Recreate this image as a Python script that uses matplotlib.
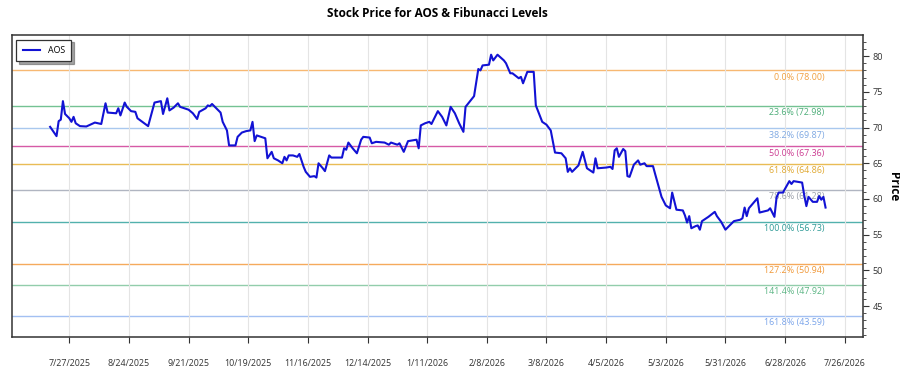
import pandas as pd
import matplotlib
matplotlib.use("Agg")
import matplotlib.pyplot as plt
from matplotlib.ticker import MultipleLocator, FixedLocator, FuncFormatter
import matplotlib.dates as mdates

plt.rcParams["font.family"] = ["Open Sans", "DejaVu Sans"]

ticker_name = "AOS"

# closing prices
dates = [
    "2025-07-18", "2025-07-21", "2025-07-22", "2025-07-23", "2025-07-24", "2025-07-25",
    "2025-07-27", "2025-07-28", "2025-07-29", "2025-07-30", "2025-08-01", "2025-08-04",
    "2025-08-08", "2025-08-11", "2025-08-13", "2025-08-14", "2025-08-18", "2025-08-19",
    "2025-08-20", "2025-08-22", "2025-08-23", "2025-08-25", "2025-08-27", "2025-08-28",
    "2025-09-02", "2025-09-03", "2025-09-05", "2025-09-08", "2025-09-09", "2025-09-11",
    "2025-09-12", "2025-09-14", "2025-09-16", "2025-09-17", "2025-09-21", "2025-09-23",
    "2025-09-25", "2025-09-26", "2025-09-29", "2025-09-30", "2025-10-01", "2025-10-02",
    "2025-10-04", "2025-10-06", "2025-10-07", "2025-10-09", "2025-10-10", "2025-10-13",
    "2025-10-14", "2025-10-16", "2025-10-18", "2025-10-20", "2025-10-21", "2025-10-22",
    "2025-10-23", "2025-10-25", "2025-10-27", "2025-10-28", "2025-10-30", "2025-10-31",
    "2025-11-02", "2025-11-04", "2025-11-05", "2025-11-06", "2025-11-07", "2025-11-09",
    "2025-11-11", "2025-11-12", "2025-11-14", "2025-11-15", "2025-11-17", "2025-11-19",
    "2025-11-20", "2025-11-21", "2025-11-23", "2025-11-24", "2025-11-26", "2025-11-27",
    "2025-12-02", "2025-12-03", "2025-12-04", "2025-12-05", "2025-12-07", "2025-12-09",
    "2025-12-11", "2025-12-12", "2025-12-15", "2025-12-16", "2025-12-18", "2025-12-22",
    "2025-12-24", "2025-12-25", "2025-12-28", "2025-12-29", "2025-12-31", "2026-01-02",
    "2026-01-06", "2026-01-07", "2026-01-08", "2026-01-10", "2026-01-12", "2026-01-13",
    "2026-01-16", "2026-01-18", "2026-01-20", "2026-01-22", "2026-01-24", "2026-01-26",
    "2026-01-28", "2026-01-29", "2026-02-02", "2026-02-04", "2026-02-05", "2026-02-06",
    "2026-02-09", "2026-02-10", "2026-02-11", "2026-02-13", "2026-02-16", "2026-02-17",
    "2026-02-19", "2026-02-20", "2026-02-23", "2026-02-24", "2026-02-25", "2026-02-27",
    "2026-03-02", "2026-03-03", "2026-03-06", "2026-03-08", "2026-03-10", "2026-03-12",
    "2026-03-15", "2026-03-17", "2026-03-18", "2026-03-19", "2026-03-20", "2026-03-23",
    "2026-03-25", "2026-03-27", "2026-03-30", "2026-03-31", "2026-04-01", "2026-04-05",
    "2026-04-07", "2026-04-08", "2026-04-09", "2026-04-10", "2026-04-11", "2026-04-13",
    "2026-04-14", "2026-04-15", "2026-04-16", "2026-04-18", "2026-04-20", "2026-04-21",
    "2026-04-23", "2026-04-24", "2026-04-27", "2026-04-28", "2026-05-01", "2026-05-03",
    "2026-05-05", "2026-05-06", "2026-05-08", "2026-05-11", "2026-05-12", "2026-05-13",
    "2026-05-14", "2026-05-15", "2026-05-17", "2026-05-18", "2026-05-19", "2026-05-20",
    "2026-05-23", "2026-05-26", "2026-05-27", "2026-05-29", "2026-05-31", "2026-06-01",
    "2026-06-04", "2026-06-07", "2026-06-08", "2026-06-09", "2026-06-10", "2026-06-11",
    "2026-06-15", "2026-06-16", "2026-06-20", "2026-06-21", "2026-06-23", "2026-06-24",
    "2026-06-25", "2026-06-27", "2026-06-30", "2026-07-01", "2026-07-02", "2026-07-04",
    "2026-07-06", "2026-07-07", "2026-07-08", "2026-07-09", "2026-07-11", "2026-07-13",
    "2026-07-14", "2026-07-15", "2026-07-16", "2026-07-17",
]
prices = [
    70.1, 68.8, 70.9, 71.1, 73.7, 71.9,
    71.3, 70.8, 71.5, 70.6, 70.2, 70.15,
    70.7, 70.5, 73.4, 72.1, 72.0, 72.7,
    71.7, 73.5, 72.9, 72.3, 72.2, 71.3,
    70.2, 71.3, 73.5, 73.7, 71.9, 74.1,
    72.4, 72.8, 73.4, 72.9, 72.5, 72.0,
    71.2, 72.2, 72.7, 73.1, 73.0, 73.3,
    72.7, 72.1, 70.8, 69.6, 67.5, 67.5,
    68.7, 69.3, 69.5, 69.6, 70.8, 68.1,
    68.9, 68.7, 68.5, 65.7, 66.6, 65.7,
    65.4, 65.0, 65.9, 65.4, 66.1, 66.1,
    65.9, 66.3, 64.5, 63.8, 63.1, 63.2,
    63.0, 65.0, 64.3, 63.9, 66.1, 65.8,
    65.8, 67.1, 66.9, 67.9, 67.1, 66.4,
    68.3, 68.7, 68.6, 67.8, 68.0, 67.9,
    67.6, 67.9, 67.6, 67.8, 66.6, 68.1,
    68.3, 67.1, 70.3, 70.6, 70.8, 70.5,
    72.3, 71.5, 70.3, 72.9, 72.0, 70.6,
    69.4, 72.9, 74.4, 78.2, 78.0, 78.7,
    78.8, 80.2, 79.4, 80.2, 79.4, 79.0,
    77.6, 77.6, 76.9, 77.1, 76.2, 77.8,
    77.8, 73.1, 70.8, 70.4, 69.6, 66.5,
    66.4, 65.7, 63.8, 64.3, 63.8, 64.7,
    66.6, 64.3, 63.7, 65.7, 64.3, 64.4,
    64.5, 64.2, 66.8, 67.1, 65.9, 67.0,
    66.7, 63.2, 63.1, 64.8, 65.4, 64.8,
    65.0, 64.6, 64.6, 63.5, 60.3, 59.1,
    58.7, 60.9, 58.5, 58.4, 57.7, 56.7,
    57.6, 55.9, 56.2, 56.3, 55.7, 56.9,
    57.5, 58.2, 57.6, 56.8, 55.7, 56.0,
    56.9, 57.1, 57.3, 58.8, 57.6, 58.7,
    60.1, 58.1, 58.4, 58.7, 57.5, 60.2,
    60.9, 60.9, 62.5, 62.1, 62.5, 62.4,
    62.3, 60.5, 59.0, 60.3, 59.6, 59.6,
    60.4, 59.9, 60.3, 58.8,
]

# fibonacci levels
fib_ratios = [0.0, 0.236, 0.382, 0.5, 0.618, 0.786, 1.0, 1.272, 1.414, 1.618]
fib_prices = [78.00, 72.98, 69.87, 67.36, 64.86, 61.28, 56.73, 50.94, 47.92, 43.59]
fib_colors = ["#f7b872", "#74c293", "#a9c8ee", "#d65aa6", "#e9bc55",
              "#b0b5c1", "#52b1ad", "#f5aa5c", "#92cdab", "#a3c0f2"]
fib_text_colors = ["#f0a040", "#4cad78", "#7ea8e2", "#cc3d92", "#e0a830",
                   "#999ea8", "#2e9a96", "#f09838", "#5cb584", "#7aa4ea"]

df = pd.DataFrame({"Date": pd.to_datetime(dates), "Close": prices})

fig = plt.figure(figsize=(9, 3.75), dpi=100)
ax = fig.add_axes([0.0133, 0.101, 0.9456, 0.8053])

for lvl, r, c, tc in zip(fib_prices, fib_ratios, fib_colors, fib_text_colors):
    ax.axhline(lvl, color=c, lw=1.0, zorder=1)
    ax.annotate(f"{r * 100:.1f}% ({lvl:.2f})", xy=(0.955, lvl),
                xycoords=("axes fraction", "data"), xytext=(0, -1.5),
                textcoords="offset points", ha="right", va="top",
                fontsize=6.4, color=tc, zorder=2)

ax.plot(df["Date"], df["Close"], color="#1212d4", lw=1.5, label=ticker_name, zorder=3)

# x axis: every 4 weeks
xticks = pd.date_range("2025-07-27", periods=14, freq="28D")
ax.xaxis.set_major_locator(FixedLocator(mdates.date2num(xticks)))
ax.xaxis.set_major_formatter(FuncFormatter(
    lambda v, p: f"{mdates.num2date(v).month}/{mdates.num2date(v).day}/{mdates.num2date(v).year}"))
ax.set_xlim(pd.Timestamp("2025-06-30 02:00"), pd.Timestamp("2026-08-03 14:00"))
ax.tick_params(axis="x", labelsize=6.4, length=4, pad=12, color="#333333", labelcolor="#333333")
ax.grid(axis="x", color="#e4e4e4", lw=0.8, zorder=0)

# y axis on the right
ax.set_ylim(40.66, 82.94)
ax.yaxis.tick_right()
ax.yaxis.set_label_position("right")
ax.yaxis.set_major_locator(MultipleLocator(5))
ax.yaxis.set_minor_locator(MultipleLocator(1))
ax.tick_params(axis="y", which="major", labelsize=6.6, length=4, pad=3,
               color="#333333", labelcolor="#333333")
ax.tick_params(axis="y", which="minor", length=2, color="#333333")
ax.set_ylabel("Price", fontsize=8.5, fontweight="bold", rotation=270, labelpad=12)

for s in ax.spines.values():
    s.set_color("#333333")
    s.set_linewidth(1.1)

ax.set_title("Stock Price for AOS & Fibunacci Levels", fontsize=8.5,
             fontweight="bold", pad=13)

leg = ax.legend(loc="upper left", fontsize=6.4, frameon=True, fancybox=False,
                shadow=True, handlelength=2.0, borderpad=0.7)
leg.get_frame().set_edgecolor("#333333")
leg.get_frame().set_linewidth(0.9)

fig.savefig("out.png", dpi=100)
